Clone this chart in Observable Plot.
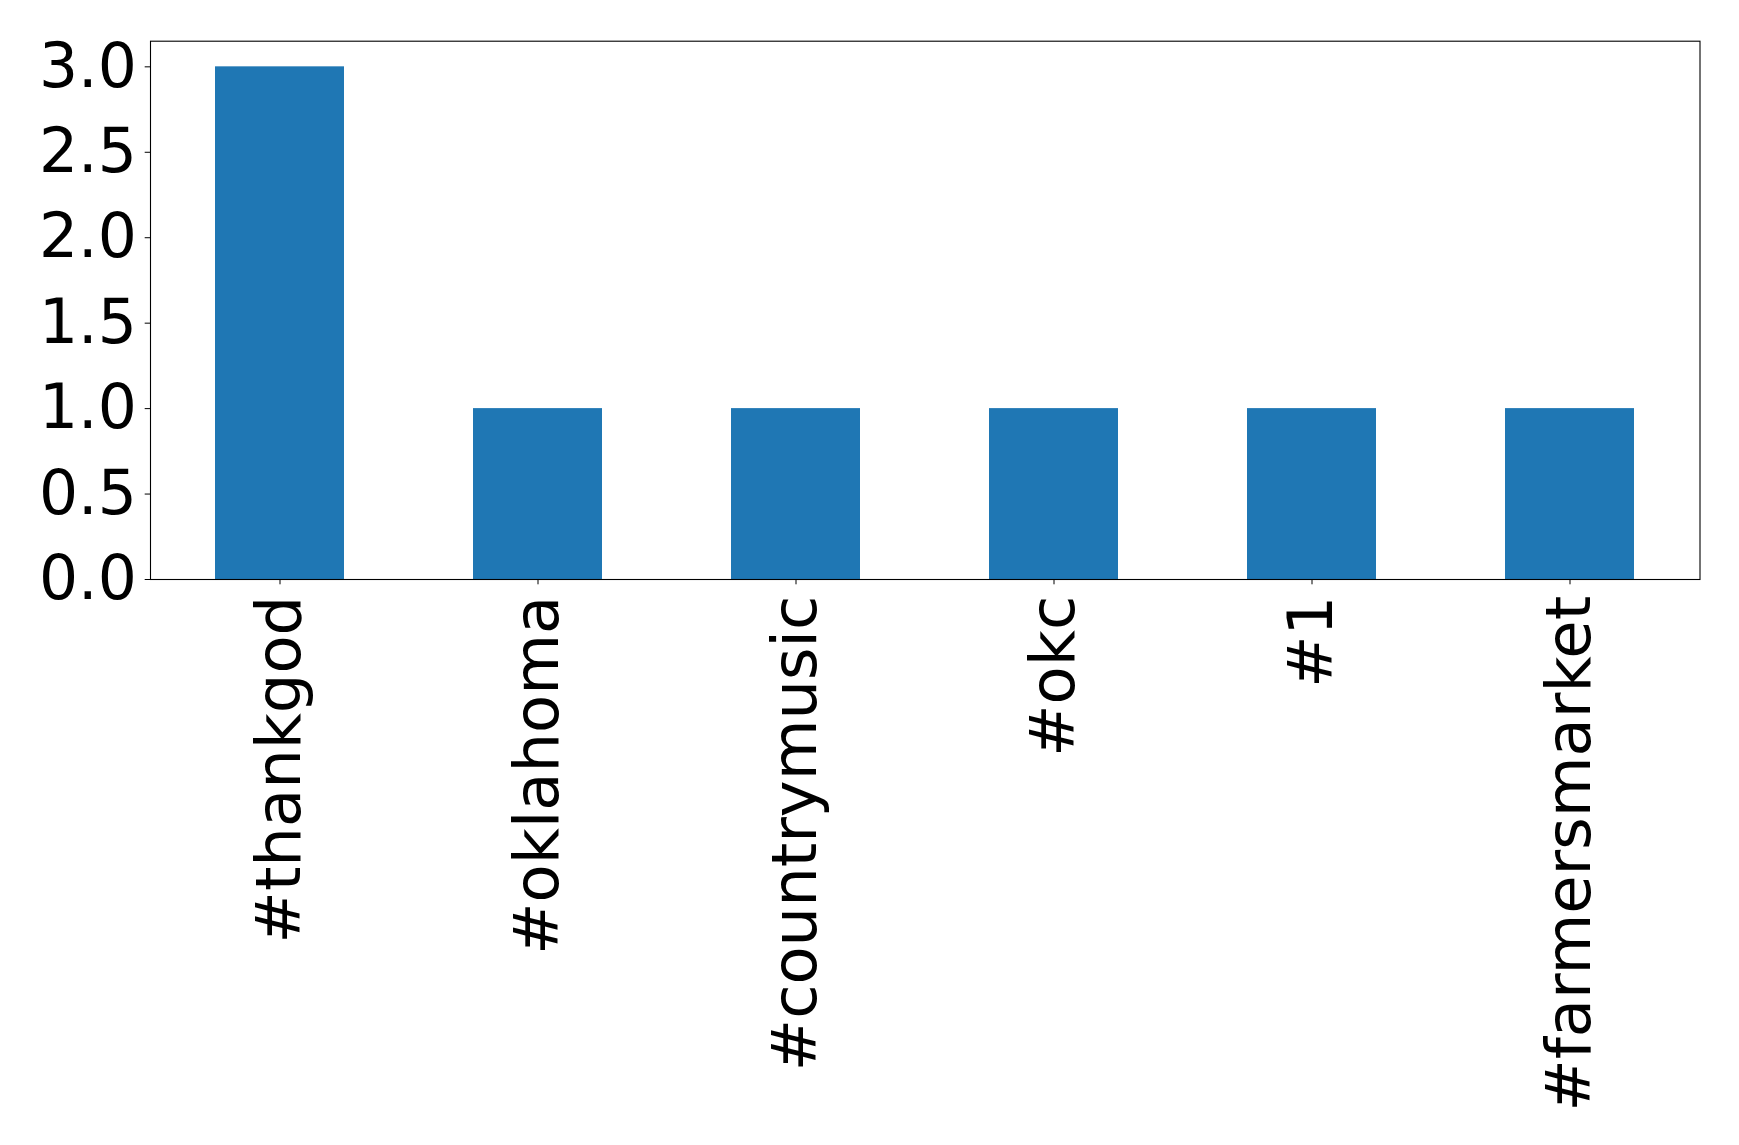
<!DOCTYPE html>
<html>
<head>
<meta charset="utf-8">
<script src="https://cdn.jsdelivr.net/npm/d3@7"></script>
<script src="https://cdn.jsdelivr.net/npm/@observablehq/plot@0.6"></script>
<style>
  html, body { margin: 0; padding: 0; background: #fff; }
  #chart svg { display: block; font-family: "DejaVu Sans", sans-serif; }
</style>
</head>
<body>
<div id="chart"></div>
<script>
const categories = ["#thankgod", "#oklahoma", "#countrymusic", "#okc", "#1", "#farmersmarket"];
const counts = [3, 1, 1, 1, 1, 1];
const yTicks = [0, 0.5, 1.0, 1.5, 2.0, 2.5, 3.0];

const data = categories.map((c, i) => ({tag: c, count: counts[i]}));

const chart = Plot.plot({
  width: 1739,
  height: 1145,
  marginLeft: 150,
  marginRight: 39.5,
  marginTop: 40.7,
  marginBottom: 566,
  style: {fontFamily: "DejaVu Sans, sans-serif", fontSize: "61px", color: "black", background: "white"},
  x: {domain: categories, paddingInner: 0.5, paddingOuter: 0.25, label: null},
  y: {domain: [0, 3.15], label: null},
  marks: [
    Plot.barY(data, {x: "tag", y: "count", fill: "#1f77b4"}),
    Plot.axisY({ticks: yTicks, tickFormat: d => d.toFixed(1), tickSize: 5.3, tickPadding: 8.4, fontSize: 61.5, label: null, stroke: "black"}),
    Plot.axisX({tickRotate: -90, tickSize: 5.3, tickPadding: 11, fontSize: 62.4, label: null, stroke: "black"}),
    Plot.frame({stroke: "black", strokeWidth: 1.1})
  ]
});
document.getElementById("chart").appendChild(chart);
</script>
</body>
</html>
